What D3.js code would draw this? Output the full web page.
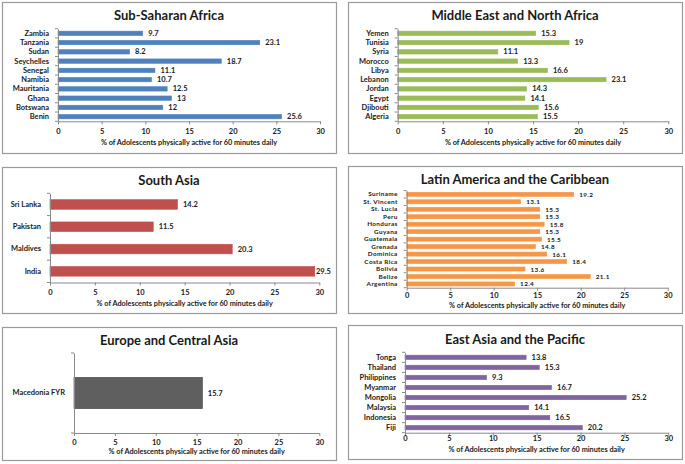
<!DOCTYPE html>
<html>
<head>
<meta charset="utf-8">
<script src="https://cdn.jsdelivr.net/npm/d3@7"></script>
<style>
  html, body { margin: 0; padding: 0; background: #fff; }
  svg { display: block; }
  text { font-family: Lato, "Open Sans", "Liberation Sans", sans-serif; fill: #1a1a1a; }
</style>
</head>
<body>
<svg id="chart" width="685" height="464"></svg>
<script>
// ---- data ----
const ssaCountries = ["Zambia","Tanzania","Sudan","Seychelles","Senegal","Namibia","Mauritania","Ghana","Botswana","Benin"];
const ssaValues = [9.7,23.1,8.2,18.7,11.1,10.7,12.5,13,12,25.6];
const menaCountries = ["Yemen","Tunisia","Syria","Morocco","Libya","Lebanon","Jordan","Egypt","Djibouti","Algeria"];
const menaValues = [15.3,19,11.1,13.3,16.6,23.1,14.3,14.1,15.6,15.5];
const saCountries = ["Sri Lanka","Pakistan","Maldives","India"];
const saValues = [14.2,11.5,20.3,29.5];
const lacCountries = ["Suriname","St. Vincent","St. Lucia","Peru","Honduras","Guyana","Guatemala","Grenada","Dominica","Costa Rica","Bolivia","Belize","Argentina"];
const lacValues = [19.2,13.1,15.3,15.3,15.8,15.3,15.5,14.8,16.1,18.4,13.6,21.1,12.4];
const ecaCountries = ["Macedonia FYR"];
const ecaValues = [15.7];
const eapCountries = ["Tonga","Thailand","Philippines","Myanmar","Mongolia","Malaysia","Indonesia","Fiji"];
const eapValues = [13.8,15.3,9.3,16.7,25.2,14.1,16.5,20.2];
const xTickValues = [0,5,10,15,20,25,30];
const xDomain = [0,30];
const axisTitle = "% of Adolescents physically active for 60 minutes daily";

// ---- layout ----
const panels = [
  { title: "Sub-Saharan Africa", cats: ssaCountries, vals: ssaValues, color: "#4F81BD", stroke: "#4F81BD",
    box: [2,2,336,153], titleY: 15, x: [58,320], y: [28.7,121.3], pad: 0.53, tickY: 131.5, axTitleY: 142, fs: 7.5, ls: 0 },
  { title: "Middle East and North Africa", cats: menaCountries, vals: menaValues, color: "#9BBB59", stroke: "#9BBB59",
    box: [348,2,682,153], titleY: 15, x: [397.7,668.3], y: [28.7,121.3], pad: 0.53, tickY: 131.5, axTitleY: 142, fs: 7.5, ls: 0 },
  { title: "South Asia", cats: saCountries, vals: saValues, color: "#C0504D", stroke: "#C0504D",
    box: [2,167,336,313], titleY: 180, x: [50,319.3], y: [193.3,282.5], pad: 0.57, tickY: 292, axTitleY: 303, fs: 7.5, ls: 0 },
  { title: "Latin America and the Caribbean", cats: lacCountries, vals: lacValues, color: "#F79646", stroke: "#F79646",
    box: [348,166,682,313], titleY: 178.5, x: [406.7,667.7], y: [190.6,287.7], pad: 0.46, tickY: 295.5, axTitleY: 305.5, fs: 6.4, ls: 0.35 },
  { title: "Europe and Central Asia", cats: ecaCountries, vals: ecaValues, color: "#5F5F5F", stroke: "#3F3F3F",
    box: [2,327,336,460], titleY: 340, x: [74,319.3], y: [353,433], pad: 0.61, tickY: 442, axTitleY: 451, fs: 7.5, ls: 0 },
  { title: "East Asia and the Pacific", cats: eapCountries, vals: eapValues, color: "#8064A2", stroke: "#8064A2",
    box: [348,325,682,459], titleY: 338.5, x: [405,668.3], y: [352.3,432.7], pad: 0.57, tickY: 438, axTitleY: 449.5, fs: 7.5, ls: 0 }
];

const svg = d3.select("#chart");

panels.forEach(p => {
  const g = svg.append("g");
  const [bx0, by0, bx1, by1] = p.box;
  g.append("rect").attr("x", bx0 + 0.5).attr("y", by0 + 0.5)
    .attr("width", bx1 - bx0).attr("height", by1 - by0)
    .attr("fill", "#fff").attr("stroke", "#9a9a9a").attr("stroke-width", 1.2);

  g.append("text").attr("x", (bx0 + bx1) / 2).attr("y", p.titleY)
    .attr("text-anchor", "middle").attr("dominant-baseline", "central")
    .attr("font-size", 13).attr("font-weight", "bold").text(p.title);

  const x = d3.scaleLinear().domain(xDomain).range(p.x);
  const y = d3.scaleBand().domain(p.cats).range(p.y)
    .paddingInner(p.pad).paddingOuter(p.pad / 2);

  // bars
  g.selectAll("rect.bar").data(p.cats).enter().append("rect")
    .attr("class", "bar")
    .attr("x", x(0))
    .attr("y", d => y(d))
    .attr("width", (d, i) => x(p.vals[i]) - x(0))
    .attr("height", y.bandwidth())
    .attr("fill", p.color)
    .attr("stroke", p.stroke).attr("stroke-width", 0.6);

  // value labels
  g.selectAll("text.val").data(p.cats).enter().append("text")
    .attr("class", "val")
    .attr("x", (d, i) => Math.min(x(p.vals[i]) + 5.5, bx1 - 20))
    .attr("y", d => y(d) + y.bandwidth() / 2)
    .attr("dominant-baseline", "central")
    .attr("font-size", p.fs).attr("letter-spacing", p.ls)
    .attr("font-weight", "bold").attr("fill", "#333")
    .text((d, i) => p.vals[i]);

  // x axis
  const xa = g.append("g").attr("transform", `translate(0,${p.y[1]})`)
    .call(d3.axisBottom(x).tickValues(xTickValues).tickSize(3).tickPadding(4).tickSizeOuter(0));
  xa.select(".domain").attr("stroke", "#8a8a8a");
  xa.selectAll(".tick line").attr("stroke", "#8a8a8a");
  xa.selectAll(".tick text").attr("font-size", 7.5).attr("font-weight", "bold")
    .attr("fill", "#333").attr("font-family", "Lato, sans-serif")
    .attr("y", null).attr("dy", null)
    .attr("transform", `translate(0,${p.tickY - p.y[1]})`)
    .attr("dominant-baseline", "central");

  // y axis (labels) + boundary ticks
  const ya = g.append("g").attr("transform", `translate(${p.x[0]},0)`)
    .call(d3.axisLeft(y).tickSize(0).tickPadding(9));
  ya.select(".domain").attr("stroke", "#8a8a8a");
  ya.selectAll(".tick text").attr("font-size", p.fs).attr("letter-spacing", p.ls)
    .attr("font-weight", "bold")
    .attr("fill", "#222").attr("font-family", "Lato, sans-serif");
  const bounds = d3.range(p.cats.length + 1).map(i => p.y[0] + i * (p.y[1] - p.y[0]) / p.cats.length);
  g.selectAll("line.ytick").data(bounds).enter().append("line")
    .attr("x1", p.x[0] - 3).attr("x2", p.x[0])
    .attr("y1", d => d).attr("y2", d => d)
    .attr("stroke", "#8a8a8a");

  // axis title
  g.append("text").attr("x", (p.x[0] + p.x[1]) / 2).attr("y", p.axTitleY)
    .attr("text-anchor", "middle").attr("dominant-baseline", "central")
    .attr("font-size", 7.3).attr("font-weight", "bold").attr("fill", "#222")
    .text(axisTitle);
});
</script>
</body>
</html>
